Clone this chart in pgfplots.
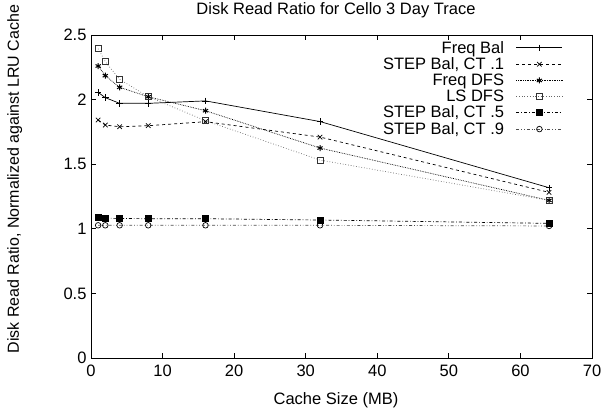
\documentclass[border=0pt]{standalone}
\usepackage{fontspec}
\setmainfont{Liberation Sans}
\usepackage{pgfplots}
\pgfplotsset{compat=1.18}
\newcommand\gf{\fontsize{16.5bp}{19bp}\selectfont}
\begin{document}
\begin{tikzpicture}[x=1bp,y=1bp]
\useasboundingbox (0,0) rectangle (605,419);
\begin{axis}[
  at={(91bp,61bp)}, anchor=south west,
  width=501bp, height=323bp, scale only axis,
  xmin=0, xmax=70, ymin=0, ymax=2.5,
  xtick={0,10,...,70}, ytick={0,0.5,...,2.5},
  /pgf/number format/assume math mode=true,
  tick label style={font=\gf},
  major tick length=5bp,
  tick style={black, line width=0.8bp},
  axis line style={line width=0.9bp},
  every axis title shift=0pt,
  title={Disk Read Ratio for Cello 3 Day Trace},
  title style={font=\gf, at={(axis description cs:0.489,1.077)}, anchor=center},
  xlabel={Cache Size (MB)},
  xlabel style={font=\gf, at={(axis description cs:0.489,-0.13)}, anchor=center},
  ylabel={Disk Read Ratio, Normalized against LRU Cache},
  ylabel style={font=\fontsize{16bp}{19bp}\selectfont, at={(axis description cs:-0.152,0.554)}, anchor=center, rotate=0},
  yticklabel style={xshift=-1bp},
  xticklabel style={yshift=-3bp},
  legend plot pos=right,
  legend cell align=right,
  legend style={draw=none, fill=none, font=\gf, at={(axis description cs:0.942,0.988)}, anchor=north east,
    row sep=-1bp, inner sep=0bp, column sep=10bp},
  legend image code/.code={\draw[mark repeat=2,mark phase=2] plot coordinates {(0bp,0bp)(23bp,0bp)(46bp,0bp)};},
  every axis plot/.append style={line width=0.7bp},
  clip=false,
]
\addplot[black, solid, mark=+, mark size=3.2bp, mark options={solid}] coordinates {
(1,2.056) (2,2.015) (4,1.971) (8,1.971) (16,1.99) (32,1.83) (64,1.318)};
\addlegendentry{Freq Bal}
\addplot[black, dashed, mark=x, mark size=3.2bp, mark options={solid}] coordinates {
(1,1.842) (2,1.803) (4,1.79) (8,1.798) (16,1.829) (32,1.71) (64,1.282)};
\addlegendentry{STEP Bal, CT .1}
\addplot[black, densely dotted, mark=asterisk, mark size=3bp, mark options={solid, line width=1bp}] coordinates {
(1,2.26) (2,2.185) (4,2.095) (8,2.022) (16,1.914) (32,1.625) (64,1.22)};
\addlegendentry{Freq DFS}
\addplot[black!60, dotted, mark=square, mark size=3bp, mark options={solid, black!80}] coordinates {
(1,2.394) (2,2.293) (4,2.157) (8,2.022) (16,1.837) (32,1.532) (64,1.22)};
\addlegendentry{LS DFS}
\addplot[black, dash dot, mark=square*, mark size=3bp, mark options={solid}] coordinates {
(1,1.088) (2,1.082) (4,1.08) (8,1.078) (16,1.078) (32,1.068) (64,1.042)};
\addlegendentry{STEP Bal, CT .5}
\addplot[black!70, dash dot dot, mark=o, mark size=2.8bp, mark options={solid, black}] coordinates {
(1,1.027) (2,1.027) (4,1.027) (8,1.027) (16,1.027) (32,1.027) (64,1.022)};
\addlegendentry{STEP Bal, CT .9}
\end{axis}
\end{tikzpicture}
\end{document}
